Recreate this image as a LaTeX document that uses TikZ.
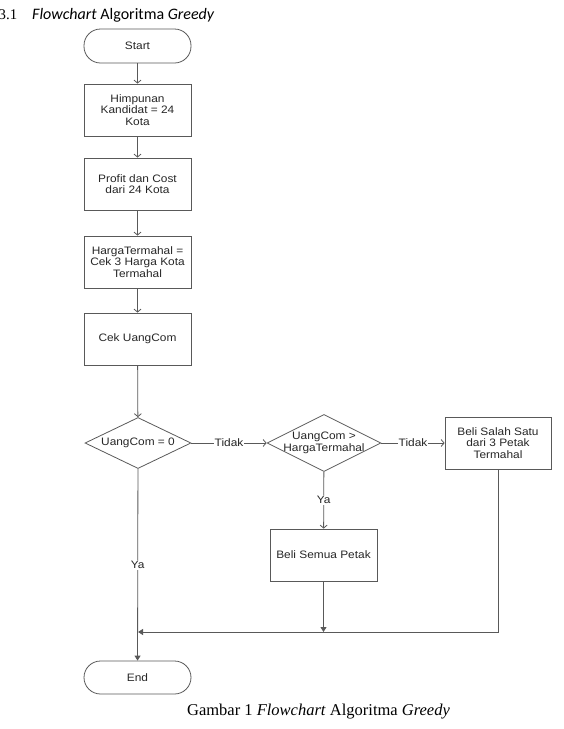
\documentclass[tikz,border=0pt]{standalone}
\usepackage{fontspec}
\setmainfont{Liberation Serif}
\newfontfamily\chartfont[FakeStretch=1.1]{Liberation Sans}
\newfontfamily\headfont{Carlito}
\usetikzlibrary{shapes.geometric,arrows.meta}
\definecolor{linegray}{gray}{0.35}

\begin{document}
\begin{tikzpicture}[x=1pt,y=-1pt,
		every node/.style={font=\chartfont\fontsize{10.8}{11.6}\selectfont,text=black!85},
		process/.style={draw=linegray,line width=0.8pt,rectangle,minimum width=107pt,minimum height=52pt,align=center,inner sep=2pt},
		terminal/.style={draw=linegray,line width=0.8pt,rectangle,rounded corners=16.5pt,minimum width=107pt,minimum height=34pt},
		decision/.style={draw=linegray,line width=0.8pt,diamond,inner sep=0pt,align=center},
		flow/.style={draw=linegray,line width=0.8pt,-{Straight Barb[length=3pt,width=7pt]}},
		mergeflow/.style={draw=linegray,line width=0.8pt,-{Triangle[length=5pt,width=6pt]}},
		lbl/.style={fill=white,inner sep=1pt}]
	\useasboundingbox (0,0) rectangle (563,729);
	% judul dan keterangan
	\node[anchor=base west,inner sep=0pt,text=black,font=\fontsize{14.8}{18}\selectfont] (judul) at (-1.5,19)
		{3.1\hspace{15pt}{\headfont\fontsize{16}{18}\selectfont\textit{Flowchart} Algoritma \textit{Greedy}}};
	\node[anchor=base,inner sep=0pt,text=black,font=\fontsize{16.5}{18}\selectfont] (keterangan) at (318.5,715)
		{Gambar 1 \textit{Flowchart} Algoritma \textit{Greedy}};
	% kolom utama
	\node[terminal] (start) at (137.5,46) {Start};
	\node[process] (kandidat) at (137.5,110) {Himpunan\\Kandidat = 24\\Kota};
	\node[process] (profit) at (137.5,184) {Profit dan Cost\\dari 24 Kota};
	\node[process] (termahal) at (137.5,262) {HargaTermahal =\\Cek 3 Harga Kota\\Termahal};
	\node[process] (cek) at (137.5,339) {Cek UangCom};
	\node[decision,shape aspect=2.08,minimum width=106pt,minimum height=51pt] (nol) at (138,443) {UangCom = 0};
	\node[decision,shape aspect=2,minimum width=114pt,minimum height=57pt] (banding) at (324,443)
		{UangCom >\\\makebox[50pt]{HargaTermahal}};
	\node[process,minimum width=106pt] (salahsatu) at (498,443) {Beli Salah Satu\\dari 3 Petak\\Termahal};
	\node[process] (semua) at (323.5,555) {Beli Semua Petak};
	\node[terminal,minimum height=33pt] (end) at (137.5,677.5) {End};
	\coordinate (gabung) at (138,632);
	% panah
	\draw[flow] (start) -- (kandidat);
	\draw[flow] (kandidat) -- (profit);
	\draw[flow] (profit) -- (termahal);
	\draw[flow] (termahal) -- (cek);
	\draw[flow] (cek) -- (nol);
	\draw[flow] (nol) -- node[lbl]{Tidak} (banding);
	\draw[flow] (banding) -- node[lbl]{Tidak} (salahsatu);
	\draw[flow] (banding) -- node[lbl]{Ya} (semua);
	\draw[mergeflow] (nol) -- node[lbl]{Ya} (end);
	\draw[mergeflow] (salahsatu.south) |- (gabung);
	\draw[mergeflow] (semua) -- (semua |- gabung);
\end{tikzpicture}
\end{document}
